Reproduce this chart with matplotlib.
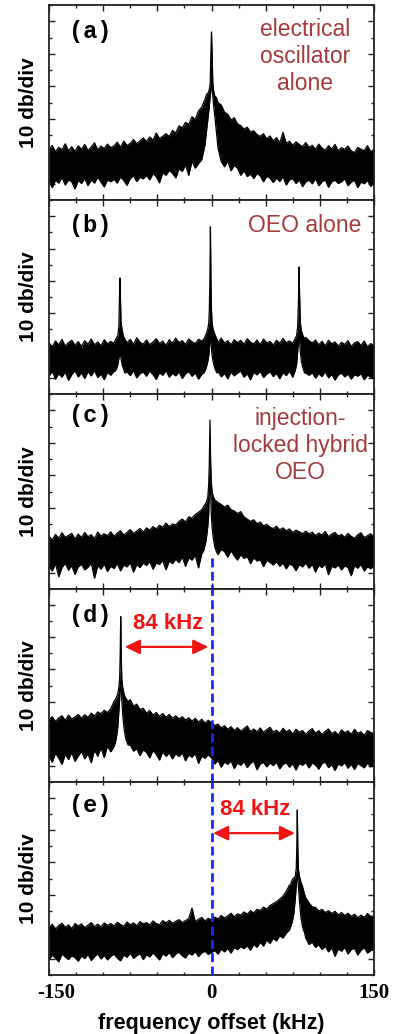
import numpy as np
import matplotlib
matplotlib.use("Agg")
import matplotlib.pyplot as plt
import matplotlib.transforms as mtransforms
from matplotlib.ticker import MultipleLocator

# ---------------- data (dB, arbitrary reference; 10 dB / div) ----------------
freq_grid = np.arange(-150, 151, 3)   # sample frequencies of the noise envelope, kHz

# panel (a): electrical oscillator alone
upper_a = [10.5, 11.8, 9.8, 11.2, 10.4, 12.3, 10.1, 11.4, 9.9, 11.7,
           10.6, 12.1, 10.2, 11.3, 12.6, 10.4, 11.6, 10.8, 12.2, 11.1,
           11.6, 12.8, 11.2, 13.1, 11.8, 12.4, 13.6, 12.3, 13.2, 14.1,
           13.0, 14.4, 13.4, 15.6, 13.9, 14.6, 15.4, 14.5, 16.4, 15.6,
           17.8, 17.2, 18.9, 18.3, 20.6, 19.8, 22.4, 23.6, 25.2, 27.0,
           46.0, 27.0, 25.5, 24.2, 22.0, 21.4, 19.6, 20.3, 18.4, 17.9,
           16.8, 17.4, 15.9, 16.3, 15.1, 14.6, 15.4, 13.8, 14.7, 13.2,
           14.2, 12.6, 15.8, 12.4, 13.1, 11.8, 12.9, 12.1, 11.4, 12.7,
           11.2, 11.8, 10.6, 12.2, 11.0, 10.3, 11.7, 10.7, 12.1, 10.2,
           11.1, 10.6, 11.6, 10.1, 9.6, 11.2, 10.6, 10.2, 11.7, 9.8,
           10.6]
lower_a = [0.8, -1.2, 1.1, 0.2, 2.0, -0.4, 1.2, 0.6, -1.6, 1.0,
           0.1, 1.6, -0.6, 1.1, 0.2, 2.1, 0.5, -1.0, 1.2, 0.6,
           1.4, 0.2, 2.1, 1.0, -0.5, 1.6, 2.4, 0.7, 2.0, 1.5,
           2.6, 1.2, 3.1, 2.2, 0.3, 3.4, 2.6, 4.1, 3.2, 1.8,
           4.6, 3.8, 5.8, 2.6, 7.0, 4.8, 6.2, 7.4, 12.0, 16.0,
           29.0, 16.0, 10.0, 6.8, 5.2, 7.0, 4.0, 5.6, 4.8, 2.6,
           4.0, 2.2, 3.0, 1.6, 3.2, 2.4, 0.6, 2.3, 1.7, 0.4,
           1.8, 0.7, 2.2, -0.4, 1.2, 1.6, 0.1, 1.2, -0.9, 0.6,
           1.1, 0.0, 1.6, -0.6, 0.6, 1.2, -1.1, 0.6, 1.1, 0.1,
           0.6, 1.6, -0.6, 0.5, 1.1, -1.2, 0.5, 0.0, 1.0, -0.8,
           0.4]
peak_a_freq = [-6, -4.5, -3, -2, -1.2, -0.6, 0, 0.6, 1.2, 2, 3, 4.5, 6]
peak_a_upper = [26, 27.5, 28, 29, 31, 40, 46.7, 40, 31, 28.5, 27, 26.5, 25]
peak_a_lower = [12, 16.5, 21, 24, 27, 29, 29, 29, 27, 24, 21, 16, 11]

# panel (b): OEO alone
upper_b = [10.8, 9.6, 11.4, 10.2, 11.9, 9.8, 10.9, 11.6, 10.1, 11.2,
           9.7, 11.5, 10.4, 12.0, 10.2, 11.1, 9.9, 11.8, 10.5, 11.3,
           10.6, 12.2, 10.1, 11.4, 10.8, 11.9, 10.3, 12.4, 11.0, 10.4,
           11.7, 10.2, 11.1, 12.1, 10.6, 11.4, 10.0, 11.8, 10.7, 12.3,
           10.9, 11.5, 10.3, 12.0, 11.2, 10.6, 11.9, 11.4, 12.2, 13.0,
           12.0, 11.8, 10.9, 12.3, 10.7, 11.5, 10.2, 11.8, 10.9, 11.6,
           10.4, 12.1, 11.0, 10.5, 11.7, 10.3, 12.0, 10.8, 11.3, 10.1,
           11.6, 10.7, 12.2, 10.9, 11.4, 10.6, 11.9, 12.0, 13.0, 12.5,
           11.5, 10.8, 11.7, 10.2, 11.3, 9.9, 11.6, 10.5, 11.1, 9.8,
           11.0, 10.3, 11.5, 9.7, 10.8, 11.2, 10.0, 11.4, 9.6, 10.6,
           9.9]
lower_b = [0.5, 2.1, -0.4, 1.3, 0.2, 1.8, -0.8, 1.0, 2.2, 0.3,
           1.5, -0.2, 1.9, 0.6, 2.3, 0.1, 1.2, -0.6, 1.7, 0.8,
           2.0, 0.4, 1.4, -0.3, 1.9, 0.7, 2.2, 0.0, 1.3, 1.8,
           0.5, 2.1, 1.0, -0.5, 1.6, 0.8, 2.3, 0.2, 1.4, 0.6,
           1.9, -0.2, 1.2, 2.0, 0.5, 1.5, -0.4, 1.1, 1.8, 1.5,
           1.0, 1.2, 2.0, 0.3, 1.4, -0.3, 1.8, 0.6, 1.5, 2.1,
           0.2, 1.3, -0.6, 1.7, 0.9, 2.0, 0.1, 1.2, 1.9, 0.4,
           1.4, -0.3, 1.6, 0.7, 2.1, 0.2, 1.0, 1.6, 2.0, 1.5,
           0.8, 1.6, -0.1, 1.3, 0.4, 1.9, 0.0, 1.1, -0.7, 0.9,
           1.5, 0.3, 1.2, -0.4, 1.0, 0.5, 1.3, -0.6, 0.8, 0.2,
           -0.4]
peak_b1_freq = [-89, -87.5, -86.5, -85.5, -85, -84.5, -84, -83.5, -82.5, -81.5, -80]
peak_b1_upper = [11.5, 12.5, 13, 16, 24, 30.9, 24, 17, 15, 13, 12]
peak_b1_lower = [2, 3, 4, 6, 7, 7.5, 7, 6, 4, 3, 1.5]
peak_b2_freq = [-7, -5, -3.5, -2.5, -2, -1.5, -1, -0.5, 0, 0.5, 1.5, 3, 5]
peak_b2_upper = [12, 13.5, 15, 17, 21, 30, 46.7, 30, 21, 17, 15, 13.5, 12]
peak_b2_lower = [1.5, 3, 5, 7, 9, 11, 11.7, 11, 9, 7, 5, 3, 1.5]
peak_b3_freq = [77, 78.5, 79.5, 80.3, 80.8, 81.3, 82, 83, 84.5, 86]
peak_b3_upper = [12, 13, 15.7, 24, 34.3, 26, 17, 14.5, 13, 12]
peak_b3_lower = [2, 4, 8, 11.5, 12.7, 11.5, 8, 5, 3, 1.5]

# panel (c): injection-locked hybrid OEO
upper_c = [11.2, 10.1, 11.8, 10.6, 12.3, 10.9, 11.5, 12.1, 10.4, 11.9,
           10.8, 12.4, 11.1, 11.7, 10.5, 12.5, 11.3, 12.0, 11.4, 12.6,
           11.2, 12.2, 12.9, 11.6, 12.4, 13.3, 12.1, 12.8, 13.6, 12.5,
           13.8, 13.1, 14.2, 13.5, 14.6, 14.0, 15.3, 14.2, 15.0, 14.7,
           15.8, 16.5, 15.6, 17.2, 16.8, 17.9, 18.6, 19.4, 20.5, 22.0,
           22.0, 22.4, 21.6, 21.0, 20.2, 20.8, 19.4, 19.0, 18.2, 18.8,
           17.2, 16.5, 15.8, 16.3, 15.1, 15.6, 14.4, 14.9, 14.0, 13.6,
           14.3, 13.2, 13.8, 12.9, 13.5, 12.4, 13.1, 12.6, 12.0, 12.8,
           11.9, 12.5, 11.4, 12.2, 11.6, 12.7, 11.1, 11.9, 12.4, 11.3,
           11.8, 10.9, 12.1, 11.2, 10.6, 11.7, 12.3, 10.8, 11.4, 12.0,
           11.0]
lower_c = [2.1, 0.5, 2.8, -1.2, 1.6, 2.9, 0.8, 2.2, -0.5, 1.8,
           2.6, 0.9, 1.7, 3.0, -1.7, 2.2, 1.1, 2.7, 0.4, 2.0,
           1.3, 2.9, 0.6, 2.4, 1.8, 3.1, 0.2, 2.5, 1.6, 3.0,
           2.2, 3.5, 1.1, 3.0, 2.6, 3.8, 0.9, 3.6, 2.8, 4.2,
           3.1, 4.9, 2.0, 4.6, 3.9, 5.4, 1.5, 5.8, 6.2, 7.0,
           8.0, 7.0, 5.6, 7.2, 6.5, 4.8, 6.8, 5.2, 3.9, 5.6,
           4.4, 5.0, 2.8, 4.6, 3.6, 4.0, 1.9, 3.8, 3.2, 2.4,
           3.4, 2.0, 3.0, 1.2, 2.7, 2.2, 0.6, 2.5, 1.8, 3.0,
           1.4, 2.6, 0.2, 2.3, 1.6, 2.8, -0.6, 2.0, 1.5, 2.4,
           0.9, 2.1, 1.6, -0.9, 2.2, 1.4, 2.6, 0.5, 1.9, 1.2,
           2.3]
peak_c_freq = [-7, -5, -3.5, -2.6, -2, -1.4, -0.8, -0.2, 0.5, 1.5, 3, 4.5]
peak_c_upper = [20.5, 21.5, 23, 27, 34, 47, 34, 28, 25, 23.5, 22.5, 22]
peak_c_lower = [7, 10, 14, 18, 25, 30, 25, 18, 14, 11, 8, 6.5]

# panel (d): locked, peak at -84 kHz
upper_d = [14.2, 15.3, 13.8, 14.9, 15.6, 14.1, 15.8, 14.6, 15.2, 16.0,
           14.8, 15.9, 15.1, 16.4, 15.5, 16.8, 16.2, 17.3, 16.6, 17.8,
           20.0, 22.0, 23.0, 24.0, 21.0, 20.6, 18.6, 19.2, 17.5, 17.9,
           16.4, 17.2, 15.8, 16.6, 15.4, 16.3, 15.1, 16.0, 14.8, 15.6,
           14.6, 15.3, 14.2, 15.0, 13.9, 14.8, 13.6, 14.5, 13.3, 14.2,
           13.4, 12.6, 13.0, 11.8, 12.5, 11.4, 12.2, 11.0, 11.9, 10.8,
           11.6, 12.4, 10.7, 11.5, 10.6, 11.8, 10.4, 11.3, 12.0, 10.5,
           11.1, 10.2, 11.7, 10.6, 11.2, 9.9, 11.4, 10.5, 11.0, 9.8,
           10.9, 11.6, 10.1, 11.0, 9.7, 10.8, 11.5, 10.0, 10.7, 9.6,
           11.2, 10.3, 10.9, 9.8, 11.4, 10.2, 10.6, 9.5, 11.0, 10.4,
           10.0]
lower_d = [3.2, 1.1, 4.0, 2.4, 0.5, 3.6, 2.0, 4.2, 1.4, 3.1,
           4.5, 2.2, 3.8, 1.0, 4.9, 3.0, 5.6, 2.6, 6.2, 4.4,
           6.0, 8.0, 12.0, 9.0, 8.0, 6.5, 4.6, 5.4, 3.2, 5.0,
           4.2, 2.5, 4.8, 3.6, 1.8, 4.4, 3.0, 4.0, 2.2, 3.8,
           2.9, 4.1, 1.6, 3.4, 2.7, 3.9, 0.8, 3.0, 2.4, 3.5,
           2.5, 0.6, 1.8, -0.4, 1.2, 0.5, 1.6, -0.8, 0.9, 0.2,
           1.4, -0.5, 0.8, 1.5, -1.2, 0.6, 1.1, -0.3, 0.9, 0.1,
           1.2, -0.9, 0.5, 1.0, -0.4, 0.7, -1.3, 0.8, 0.2, 1.1,
           -0.6, 0.9, 0.3, -1.0, 0.7, 1.2, -0.5, 0.4, -1.4, 0.6,
           0.0, 1.0, -0.7, 0.5, -1.1, 0.8, 0.1, -0.6, 0.9, -0.3,
           0.4]
peak_d_freq = [-90, -88, -86.5, -85.5, -84.8, -84.3, -83.8, -83.3, -82.8, -82, -80.5, -79, -77]
peak_d_upper = [20, 21, 22.5, 24.5, 27, 34, 46.4, 34, 27, 24.5, 22, 21, 20]
peak_d_lower = [6, 8.3, 12, 17, 20.6, 24, 25.8, 24, 20.6, 16, 11, 8.3, 6.5]

# panel (e): locked, peak at +84 kHz
upper_e = [9.6, 10.8, 9.2, 10.4, 11.1, 9.8, 10.6, 9.4, 11.0, 10.2,
           10.9, 9.7, 10.5, 11.3, 10.0, 10.8, 9.9, 11.2, 10.4, 11.0,
           10.2, 11.4, 10.7, 10.1, 11.5, 10.6, 11.2, 10.3, 11.6, 10.9,
           11.3, 10.5, 11.8, 11.0, 10.6, 11.9, 11.2, 12.0, 11.1, 11.7,
           12.2, 11.3, 11.9, 12.5, 15.8, 11.6, 12.3, 12.9, 11.8, 12.6,
           12.1, 13.0, 12.4, 13.5, 12.7, 13.4, 14.2, 13.1, 14.0, 13.6,
           14.6, 13.9, 15.0, 14.3, 15.4, 15.0, 16.1, 15.5, 16.6, 17.2,
           17.8, 18.6, 19.5, 21.0, 23.0, 24.6, 22.5, 20.0, 18.0, 19.0,
           17.4, 16.2, 16.0, 14.9, 15.4, 14.4, 15.0, 14.1, 14.8, 13.7,
           14.4, 13.5, 14.2, 13.2, 13.9, 12.8, 13.6, 12.9, 14.1, 13.2,
           13.4]
lower_e = [-0.4, 1.2, 0.2, -0.9, 1.5, 0.6, -0.2, 1.0, 0.4, -0.7,
           0.9, 0.1, 1.4, -0.5, 0.7, 1.6, 0.0, 1.1, -0.3, 0.8,
           1.5, 0.3, -0.6, 1.2, 0.5, 1.8, 0.2, 1.0, 1.7, -0.2,
           1.3, 0.6, 1.9, 0.8, -0.3, 1.6, 0.9, 2.0, 0.4, 1.5,
           2.1, 1.0, 0.3, 1.8, 1.2, 2.3, 0.7, 1.9, 2.4, 1.4,
           2.0, 2.6, 1.5, 3.0, 2.2, 3.3, 1.8, 3.5, 2.9, 3.8,
           3.2, 4.1, 2.7, 4.5, 3.6, 5.2, 4.0, 5.9, 4.8, 6.4,
           5.6, 7.2, 6.5, 8.0, 9.0, 10.0, 12.0, 12.0, 10.0, 6.5,
           4.5, 5.2, 3.6, 4.4, 2.9, 3.9, 2.2, 3.5, 0.8, 3.1,
           2.4, 3.6, 1.5, 2.9, 3.3, 1.2, 2.7, 3.5, 1.8, 2.6,
           3.0]
peak_e_freq = [73, 74.5, 76, 77.3, 78.2, 78.7, 79.2, 79.7, 80.2, 81.2, 82.5, 84, 86]
peak_e_upper = [23, 24.6, 25.2, 25.6, 28, 34, 46.3, 34, 28, 25.6, 24, 22.5, 20]
peak_e_lower = [10, 11.5, 14, 18.5, 22.7, 25, 25.6, 25, 22.7, 18, 13, 10, 8]

panel_tags = ["(a)", "(b)", "(c)", "(d)", "(e)"]
panel_notes = ["electrical\noscillator\nalone", "OEO alone",
               "injection-\nlocked hybrid\nOEO", "", ""]
offset_label = "84 kHz"
x_tick_values = [-150, 0, 150]
x_tick_labels = ["-150", "0", "150"]


def merge(upper, lower, peaks):
    f = freq_grid.astype(float)
    keep = np.ones(f.size, bool)
    for pf, pu, pl in peaks:
        keep &= (f < min(pf)) | (f > max(pf))
    ff = [f[keep]] + [np.asarray(p[0], float) for p in peaks]
    uu = [np.asarray(upper, float)[keep]] + [np.asarray(p[1], float) for p in peaks]
    ll = [np.asarray(lower, float)[keep]] + [np.asarray(p[2], float) for p in peaks]
    ff, uu, ll = np.concatenate(ff), np.concatenate(uu), np.concatenate(ll)
    o = np.argsort(ff)
    return ff[o], uu[o], ll[o]


traces = [
    merge(upper_a, lower_a, [(peak_a_freq, peak_a_upper, peak_a_lower)]),
    merge(upper_b, lower_b, [(peak_b1_freq, peak_b1_upper, peak_b1_lower),
                             (peak_b2_freq, peak_b2_upper, peak_b2_lower),
                             (peak_b3_freq, peak_b3_upper, peak_b3_lower)]),
    merge(upper_c, lower_c, [(peak_c_freq, peak_c_upper, peak_c_lower)]),
    merge(upper_d, lower_d, [(peak_d_freq, peak_d_upper, peak_d_lower)]),
    merge(upper_e, lower_e, [(peak_e_freq, peak_e_upper, peak_e_lower)]),
]

# ---------------- figure ----------------
W, H = 394, 1034
fig = plt.figure(figsize=(W / 100, H / 100), dpi=100)
left, right = 49 / W, 374 / W
edges = [5, 200, 394, 589, 782, 975]
axes = []
for k in range(5):
    top = 1 - edges[k] / H
    bot = 1 - edges[k + 1] / H
    axes.append(fig.add_axes([left, bot, right - left, top - bot]))

note_color = "#a33a3c"
red = "#f01414"
blue = "#1428ff"
sans = "Liberation Sans"

tag_y = [0.862, 0.871, 0.892, 0.865, 0.88]
note_pos = [(0.788, 0.735), (0.788, 0.871), (0.774, 0.735)]

for k, ax in enumerate(axes):
    f, up, lo = traces[k]
    ax.fill_between(f, lo, up, color="black", lw=0, zorder=2)
    ax.plot(f, up, color="black", lw=0.9, zorder=2)
    ax.plot(f, lo, color="black", lw=0.9, zorder=2)
    ax.set_xlim(-150, 150)
    ax.set_ylim(-5, 55)
    ax.yaxis.set_major_locator(MultipleLocator(10))
    ax.yaxis.set_minor_locator(MultipleLocator(5))
    ax.xaxis.set_major_locator(MultipleLocator(50))
    ax.xaxis.set_minor_locator(MultipleLocator(25))
    ax.tick_params(which="both", direction="in", top=True, right=True,
                   labelleft=False, labelbottom=False, width=1.0, color="#222222")
    ax.tick_params(which="major", length=4.5)
    ax.tick_params(which="minor", length=2.5)
    for s in ax.spines.values():
        s.set_linewidth(1.3)
        s.set_color("#222222")
    ax.set_ylabel("10 db/div", fontsize=15, fontweight="bold", family=sans)
    ax.yaxis.set_label_coords(-0.035, 0.5)
    ax.text(0.126, tag_y[k], panel_tags[k], transform=ax.transAxes,
            family="Liberation Mono", fontweight="bold", fontsize=17,
            ha="center", va="center")
    if k < 3:
        x, y = note_pos[k]
        ax.text(x, y, panel_notes[k], transform=ax.transAxes, color=note_color,
                family=sans, fontsize=16.5, ha="center", va="center",
                linespacing=1.22)

# blue dashed reference line at zero offset
dash = dict(color=blue, lw=2.0, linestyle=(0, (3.2, 1.6)), zorder=5)
axes[2].plot([0, 0], [4.5, -5], clip_on=False, **dash)
axes[3].plot([0, 0], [-5, 55], **dash)
axes[4].plot([0, 0], [-5, 55], **dash)

# offset arrows
arrow = dict(arrowstyle="<|-|>,head_length=0.45,head_width=0.22", color=red,
             lw=1.6, mutation_scale=20, shrinkA=0, shrinkB=0)
axes[3].annotate("", xy=(-3, 37), xytext=(-80, 37), arrowprops=arrow)
axes[3].text(-40, 44.4, offset_label, color=red, fontsize=16, fontweight="bold",
             family=sans, ha="center", va="center")
axes[4].annotate("", xy=(77, 39.1), xytext=(1.5, 39.1), arrowprops=arrow)
axes[4].text(40, 46.3, offset_label, color=red, fontsize=16, fontweight="bold",
             family=sans, ha="center", va="center")

# bottom axis labels
axb = axes[4]
axb.set_xticks(x_tick_values)
axb.set_xticklabels(x_tick_labels)
axb.xaxis.set_minor_locator(MultipleLocator(25))
axb.tick_params(which="major", labelbottom=True, pad=6)
for t in axb.get_xticklabels():
    t.set_family("Liberation Serif")
    t.set_fontweight("bold")
    t.set_fontsize(15)
first = axb.get_xticklabels()[0]
first.set_transform(first.get_transform() +
                    mtransforms.ScaledTranslation(7 / 100, 0, fig.dpi_scale_trans))
axb.set_xlabel("frequency offset (kHz)", fontsize=15.5, fontweight="bold", family=sans)
axb.xaxis.set_label_coords(0.5, -0.195)

fig.savefig("out.png", dpi=100)
